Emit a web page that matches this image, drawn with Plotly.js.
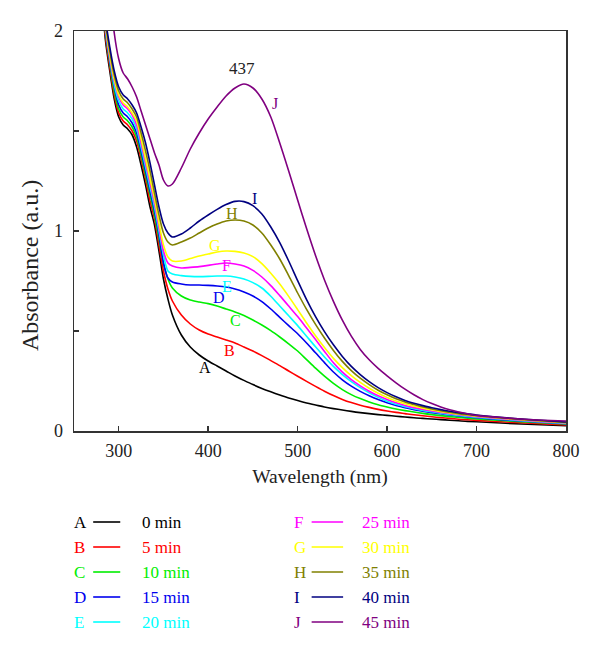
<!DOCTYPE html>
<html>
<head>
<meta charset="utf-8">
<script src="https://cdn.plot.ly/plotly-3.0.1.min.js"></script>
<style>body{margin:0;background:#fff}#chart{width:600px;height:657px}</style>
</head>
<body>
<div id="chart"></div>
<script>
// Wavelength grid (nm)
const wavelength = [280,285,290,295,300,305,310,315,320,325,330,335,340,345,350,355,360,
  370,380,390,400,410,420,430,440,450,460,470,480,490,500,
  510,520,530,540,550,560,570,580,590,600,
  610,620,630,640,650,660,670,680,690,700,750,800];

// Absorbance series
const absA = [2.25,1.96,1.80,1.66,1.57,1.53,1.51,1.48,1.42,1.33,1.23,1.12,1.03,0.90,0.76,0.66,0.58,
  0.48,0.42,0.38,0.35,0.325,0.30,0.275,0.253,0.232,0.213,0.196,0.18,0.165,0.152,
  0.14,0.13,0.12,0.112,0.105,0.098,0.092,0.087,0.082,0.078,
  0.074,0.07,0.066,0.063,0.06,0.057,0.054,0.051,0.048,0.046,0.035,0.026];
const absB = [2.28,1.98,1.82,1.68,1.59,1.55,1.53,1.50,1.45,1.36,1.26,1.15,1.06,0.93,0.80,0.71,0.65,
  0.58,0.535,0.505,0.485,0.47,0.455,0.44,0.42,0.40,0.377,0.352,0.327,0.30,0.274,
  0.248,0.223,0.199,0.177,0.158,0.142,0.129,0.118,0.108,0.10,
  0.093,0.087,0.081,0.076,0.071,0.067,0.063,0.059,0.056,0.053,0.041,0.03];
const absC = [2.30,2.00,1.84,1.70,1.61,1.57,1.55,1.52,1.47,1.38,1.28,1.18,1.08,0.96,0.84,0.76,0.715,
  0.675,0.655,0.645,0.637,0.625,0.61,0.595,0.577,0.555,0.53,0.502,0.47,0.436,0.40,
  0.357,0.314,0.274,0.238,0.207,0.182,0.162,0.145,0.131,0.12,
  0.11,0.102,0.095,0.088,0.082,0.077,0.072,0.068,0.064,0.06,0.047,0.035];
const absD = [2.32,2.01,1.85,1.72,1.63,1.59,1.57,1.54,1.49,1.40,1.30,1.20,1.10,0.98,0.84,0.765,0.745,
  0.735,0.73,0.73,0.728,0.725,0.72,0.71,0.695,0.675,0.647,0.61,0.568,0.527,0.486,
  0.44,0.391,0.342,0.295,0.256,0.224,0.198,0.176,0.157,0.141,
  0.127,0.116,0.107,0.099,0.092,0.086,0.08,0.075,0.07,0.066,0.05,0.037];
const absE = [2.34,2.02,1.86,1.73,1.65,1.61,1.59,1.56,1.51,1.42,1.32,1.22,1.12,1.00,0.88,0.80,0.785,
  0.777,0.773,0.772,0.773,0.775,0.775,0.77,0.76,0.742,0.715,0.674,0.625,0.576,0.527,
  0.474,0.421,0.37,0.323,0.282,0.247,0.217,0.191,0.168,0.149,
  0.134,0.122,0.112,0.103,0.096,0.089,0.083,0.078,0.073,0.069,0.052,0.038];
const absF = [2.36,2.03,1.87,1.75,1.67,1.63,1.61,1.58,1.53,1.44,1.34,1.24,1.14,1.02,0.90,0.84,0.825,
  0.815,0.818,0.822,0.828,0.835,0.84,0.835,0.825,0.803,0.77,0.727,0.677,0.625,0.572,
  0.515,0.457,0.398,0.341,0.294,0.257,0.226,0.199,0.176,0.157,
  0.141,0.128,0.117,0.108,0.1,0.093,0.087,0.081,0.076,0.072,0.054,0.04];
const absG = [2.38,2.04,1.88,1.76,1.68,1.64,1.62,1.59,1.55,1.46,1.36,1.26,1.16,1.04,0.93,0.87,0.85,
  0.85,0.862,0.875,0.885,0.895,0.90,0.898,0.89,0.872,0.837,0.789,0.735,0.673,0.607,
  0.54,0.476,0.417,0.363,0.317,0.277,0.243,0.214,0.189,0.168,
  0.15,0.136,0.124,0.114,0.105,0.097,0.09,0.084,0.079,0.074,0.056,0.041];
const absH = [2.40,2.05,1.90,1.78,1.70,1.66,1.64,1.61,1.57,1.49,1.40,1.30,1.19,1.08,0.99,0.945,0.93,
  0.945,0.965,0.99,1.015,1.035,1.05,1.055,1.05,1.03,0.99,0.93,0.86,0.777,0.69,
  0.608,0.533,0.465,0.403,0.348,0.302,0.264,0.232,0.204,0.181,
  0.161,0.145,0.132,0.12,0.11,0.101,0.094,0.087,0.081,0.076,0.058,0.043];
const absI = [2.42,2.07,1.92,1.80,1.72,1.68,1.66,1.63,1.59,1.52,1.44,1.34,1.23,1.12,1.035,0.99,0.97,
  0.985,1.015,1.05,1.08,1.108,1.132,1.148,1.147,1.127,1.085,1.02,0.942,0.85,0.752,
  0.657,0.572,0.497,0.431,0.373,0.323,0.282,0.247,0.217,0.192,
  0.171,0.153,0.139,0.127,0.116,0.107,0.099,0.092,0.086,0.08,0.06,0.045];
const absJ = [3.0,2.55,2.22,1.99,1.86,1.79,1.76,1.72,1.67,1.60,1.53,1.46,1.39,1.33,1.255,1.225,1.235,
  1.315,1.41,1.49,1.56,1.62,1.675,1.715,1.735,1.715,1.66,1.57,1.44,1.30,1.155,
  1.012,0.877,0.755,0.648,0.554,0.474,0.408,0.356,0.313,0.276,
  0.241,0.209,0.181,0.157,0.137,0.12,0.106,0.095,0.086,0.078,0.06,0.05];

const series = [absA,absB,absC,absD,absE,absF,absG,absH,absI,absJ];
const letters = ['A','B','C','D','E','F','G','H','I','J'];
const times = ['0 min','5 min','10 min','15 min','20 min','25 min','30 min','35 min','40 min','45 min'];
const colors = ['#000000','#ff0000','#00ee00','#0000ee','#00ffff','#ff00ff','#ffff00','#808000','#000080','#800080'];

// In-plot labels
const labelX = [396,424,430,412,421,421,408,427,452,475];
const labelY = [0.32,0.405,0.555,0.67,0.725,0.83,0.93,1.09,1.165,1.64];
const peakText = '437';
const peakX = 438, peakY = 1.815;

const FONT = 'Liberation Serif, Times New Roman, serif';

const traces = series.map((ys, i) => ({
  x: wavelength, y: ys, type: 'scatter', mode: 'lines',
  line: {color: colors[i], width: 1.6, shape: 'spline', smoothing: 0.8},
  showlegend: false, hoverinfo: 'skip'
}));

const annotations = [];
letters.forEach((L, i) => {
  annotations.push({x: labelX[i], y: labelY[i], xref: 'x', yref: 'y', text: L, showarrow: false,
    font: {family: FONT, size: 16, color: colors[i]}, xanchor: 'center', yanchor: 'middle'});
});
annotations.push({x: peakX, y: peakY, xref: 'x', yref: 'y', text: peakText, showarrow: false,
  font: {family: FONT, size: 17, color: '#222'}, xanchor: 'center', yanchor: 'middle'});

// Y-axis title (placed as in the reference, below the axis middle)
annotations.push({x: -0.088, y: 0.414, xref: 'paper', yref: 'paper', text: 'Absorbance (a.u.)',
  textangle: -90, showarrow: false, xanchor: 'center', yanchor: 'middle',
  font: {family: FONT, size: 24, color: '#222'}});

// Legend (two columns: letter - line - time)
const shapes = [];
const colLetter = [-0.004, 0.443];
const colLine = [[0.039, 0.094], [0.483, 0.547]];
const colLabel = [0.134, 0.581];
const rowY = [-0.2275, -0.29, -0.3525, -0.415, -0.4775];
letters.forEach((L, i) => {
  const c = i < 5 ? 0 : 1, r = i % 5;
  annotations.push({x: colLetter[c], y: rowY[r], xref: 'paper', yref: 'paper', text: L, showarrow: false,
    font: {family: FONT, size: 17, color: colors[i]}, xanchor: 'left', yanchor: 'middle'});
  annotations.push({x: colLabel[c], y: rowY[r], xref: 'paper', yref: 'paper', text: times[i], showarrow: false,
    font: {family: FONT, size: 17, color: colors[i]}, xanchor: 'left', yanchor: 'middle'});
  shapes.push({type: 'line', xref: 'paper', yref: 'paper', x0: colLine[c][0], x1: colLine[c][1],
    y0: rowY[r], y1: rowY[r], line: {color: colors[i], width: 1.6}});
});

const axisCommon = {
  showline: true, linecolor: '#333', linewidth: 1.5, mirror: true,
  ticks: 'inside', ticklen: 5, tickwidth: 1.5, tickcolor: '#333',
  showgrid: false, zeroline: false,
  tickfont: {family: FONT, size: 18, color: '#222'}
};

const layout = {
  width: 600, height: 657,
  margin: {l: 74, r: 34, t: 31, b: 226},
  paper_bgcolor: '#fff', plot_bgcolor: '#fff',
  font: {family: FONT, size: 17, color: '#222'},
  xaxis: Object.assign({}, axisCommon, {
    range: [250, 800], tickvals: [300,400,500,600,700,800],
    ticklabelstandoff: 3,
    title: {text: 'Wavelength (nm)', font: {family: FONT, size: 19.5, color: '#222'}, standoff: 9}
  }),
  yaxis: Object.assign({}, axisCommon, {
    range: [0, 2], tickvals: [0,0.5,1,1.5,2], ticktext: ['0','','1','','2'],
    ticklabelstandoff: 6
  }),
  annotations: annotations,
  shapes: shapes
};

Plotly.newPlot('chart', traces, layout, {displayModeBar: false, staticPlot: true});
</script>
</body>
</html>
